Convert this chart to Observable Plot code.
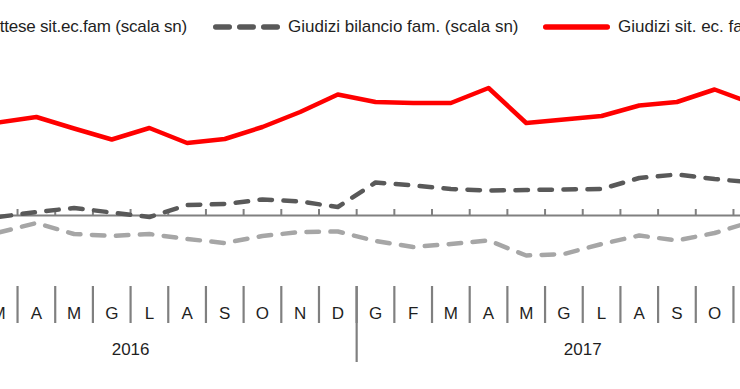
<!DOCTYPE html>
<html>
<head>
<meta charset="utf-8">
<script src="https://cdn.jsdelivr.net/npm/d3@7"></script>
<script src="https://cdn.jsdelivr.net/npm/@observablehq/plot@0.6"></script>
<style>
  html, body { margin: 0; padding: 0; background: #fff; }
  #wrap { width: 740px; height: 389px; overflow: hidden; position: relative; background: #fff;
          font-family: "Liberation Sans", Arial, sans-serif; color: #1f1f1f; }
  #legend { position: relative; height: 45px; font-size: 17px; line-height: 20px; }
  #legend .txt { position: absolute; top: 17px; white-space: nowrap; }
  #legend svg { position: absolute; top: 17px; overflow: visible; }
  #chart svg { display: block; }
</style>
</head>
<body>
<div id="wrap">
  <div id="legend"></div>
  <div id="chart"></div>
</div>
<script>
// Month labels (March 2016 .. November 2017), index 0 = March 2016
const monthLabels = ["M","A","M","G","L","A","S","O","N","D","G","F","M","A","M","G","L","A","S","O","N"];
const yearLabels = ["2016", "2017"];
const seriesNames = ["Attese sit.ec.fam (scala sn)", "Giudizi bilancio fam. (scala sn)", "Giudizi sit. ec. fam. (scala dx)"];

// Values (arbitrary units)
const attese    = [-3.4,-1.5,-3.7,-4.1,-3.7,-4.7,-5.5,-4.1,-3.3,-3.2,-5.1,-6.3,-5.7,-5.0,-8.0,-7.7,-5.7,-4.0,-5.0,-3.5,-1.2];
const bilancio  = [-0.3, 0.7, 1.5, 0.6,-0.3, 2.1, 2.3, 3.2, 2.8, 1.7, 6.6, 6.0, 5.3, 5.0, 5.1, 5.2, 5.3, 7.5, 8.2, 7.3, 6.6];
const giudizi   = [18.6,19.7,17.4,15.2,17.5,14.5,15.3,17.7,20.7,24.2,22.7,22.5,22.5,25.5,18.5,19.2,19.9,22.0,22.7,25.2,22.4];

const colors = {light: "#a6a6a6", dark: "#595959", red: "#ff0000", axis: "#808080"};

const idx = d3.range(monthLabels.length);
const rowsA = idx.map(i => ({t: i, v: attese[i]}));
const rowsB = idx.map(i => ({t: i, v: bilancio[i]}));
const rowsG = idx.map(i => ({t: i, v: giudizi[i]}));
const boundaries = d3.range(-1, 21).map(i => i + 0.5);
const yearBoundary = [9.5];
const yearCenters = [3.5, 15.5];

// Legend
const legend = document.getElementById("legend");
function addText(text, style) {
  const s = document.createElement("span");
  s.className = "txt"; s.textContent = text;
  Object.assign(s.style, style);
  legend.appendChild(s);
}
function addSymbol(left, width, color, dash, sw) {
  const ns = "http://www.w3.org/2000/svg";
  const svg = document.createElementNS(ns, "svg");
  svg.setAttribute("width", width); svg.setAttribute("height", 20);
  svg.style.left = left + "px";
  const l = document.createElementNS(ns, "line");
  l.setAttribute("x1", sw / 2); l.setAttribute("x2", width - sw / 2);
  l.setAttribute("y1", 10); l.setAttribute("y2", 10);
  l.setAttribute("stroke", color); l.setAttribute("stroke-width", sw);
  l.setAttribute("stroke-linecap", "round");
  if (dash) l.setAttribute("stroke-dasharray", dash);
  svg.appendChild(l);
  legend.appendChild(svg);
}
addSymbol(-90, 67, colors.light, "13.5 10.5", 5.5);
addText(seriesNames[0], {right: (740 - 187) + "px", letterSpacing: "-0.2px"});
addSymbol(213, 67, colors.dark, "13.5 10.5", 5.5);
addText(seriesNames[1], {left: "288px"});
addSymbol(543, 67, colors.red, null, 5.5);
addText(seriesNames[2], {left: "618px"});

const plot = Plot.plot({
  width: 740,
  height: 344,
  marginLeft: 0, marginRight: 0, marginTop: 0, marginBottom: 103,
  x: {domain: [0, 20], range: [-1.8, 751.8], axis: null},
  y: {domain: [-30, 30], range: [320, 20], axis: null},
  style: {fontFamily: "'Liberation Sans', Arial, sans-serif", fontSize: "17px", color: "#1f1f1f", background: "transparent", overflow: "visible"},
  marks: [
    Plot.axisX({ticks: boundaries, anchor: "bottom", tickSize: 37, tickFormat: () => "", stroke: colors.axis, strokeWidth: 2.2, label: null}),
    Plot.axisX({ticks: yearBoundary, anchor: "bottom", tickSize: 76, tickFormat: () => "", stroke: colors.axis, strokeWidth: 2.2, label: null}),
    Plot.axisX({ticks: idx, anchor: "bottom", tickSize: 0, tickPadding: 20, tickFormat: i => monthLabels[i], fontSize: 17, label: null}),
    Plot.axisX({ticks: yearCenters, anchor: "bottom", tickSize: 0, tickPadding: 56, tickFormat: (d, i) => yearLabels[i], fontSize: 17, label: null}),
    Plot.ruleY([0], {stroke: colors.axis, strokeWidth: 2}),
    Plot.ruleX(boundaries, {y1: 0, y2: 0, insetTop: -6, stroke: colors.axis, strokeWidth: 2}),
    Plot.line(rowsA, {x: "t", y: "v", stroke: colors.light, strokeWidth: 4.5, strokeDasharray: "12.5 11.5", strokeLinecap: "round"}),
    Plot.line(rowsB, {x: "t", y: "v", stroke: colors.dark, strokeWidth: 4.5, strokeDasharray: "12.5 11.5", strokeLinecap: "round"}),
    Plot.line(rowsG, {x: "t", y: "v", stroke: colors.red, strokeWidth: 4.5})
  ]
});
document.getElementById("chart").appendChild(plot);
</script>
</body>
</html>
